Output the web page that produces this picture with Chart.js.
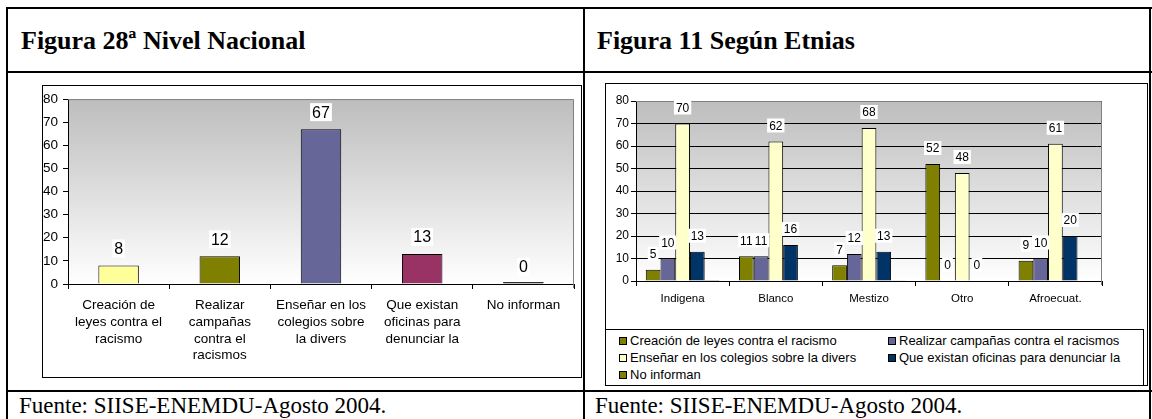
<!DOCTYPE html>
<html>
<head>
<meta charset="utf-8">
<script src="https://cdn.jsdelivr.net/npm/chart.js@4"></script>
<style>
  html, body { margin: 0; padding: 0; background: #fff; }
  #page { position: relative; width: 1152px; height: 419px; overflow: hidden; font-family: "Liberation Serif", "Times New Roman", serif; }
  .ln { position: absolute; background: #000; }
  .title { position: absolute; font-weight: bold; font-size: 26px; line-height: 1; white-space: nowrap; }
  .src { position: absolute; font-size: 23px; line-height: 1; white-space: nowrap; }
  .box { position: absolute; border: 1px solid #000; box-sizing: border-box; }
  canvas { position: absolute; }
  #legend { position: absolute; left: 605px; top: 329px; width: 539px; height: 57px; border: 1px solid #000; box-sizing: border-box;
            font-family: "Liberation Sans", Arial, sans-serif; font-size: 13px; padding-top: 2px; }
  #legend .it { position: absolute; height: 17px; line-height: 17px; white-space: nowrap; }
  #legend .sw { display: inline-block; width: 6px; height: 6px; border: 1px solid #000; margin-right: 3px; vertical-align: 0px; }
</style>
</head>
<body>
<div id="page">
  <div class="ln" style="left:6px;top:7px;width:1146px;height:2px"></div>
  <div class="ln" style="left:6px;top:71px;width:1146px;height:2px"></div>
  <div class="ln" style="left:6px;top:390px;width:1146px;height:2px"></div>
  <div class="ln" style="left:6px;top:7px;width:2px;height:412px"></div>
  <div class="ln" style="left:583px;top:7px;width:2px;height:412px"></div>
  <div class="ln" style="left:1149px;top:7px;width:2px;height:412px"></div>

  <div class="title" style="left:21px;top:28px">Figura 28ª Nivel Nacional</div>
  <div class="title" style="left:597px;top:28px">Figura 11 Según Etnias</div>
  <div class="src" style="left:19px;top:394px">Fuente: SIISE-ENEMDU-Agosto 2004.</div>
  <div class="src" style="left:595px;top:394px">Fuente: SIISE-ENEMDU-Agosto 2004.</div>

  <div class="box" style="left:42px;top:85px;width:540px;height:293px"></div>
  <canvas id="natChart" width="538" height="291" style="left:43px;top:86px;width:538px;height:291px"></canvas>

  <div class="box" style="left:605px;top:83px;width:543px;height:303px"></div>
  <canvas id="etnChart" width="541" height="244" style="left:606px;top:84px;width:541px;height:244px"></canvas>
  <div id="legend"></div>
</div>

<script>
/* ---- data: Figura 28 (nivel nacional) ---- */
const natLabels = [
  ['Creación de', 'leyes contra el', 'racismo'],
  ['Realizar', 'campañas', 'contra el', 'racismos'],
  ['Enseñar en los', 'colegios sobre', 'la divers'],
  ['Que existan', 'oficinas para', 'denunciar la'],
  ['No informan']
];
const natValues = [8, 12, 67, 13, 0];

/* ---- data: Figura 11 (según etnias) ---- */
const etnias = ['Indigena', 'Blanco', 'Mestizo', 'Otro', 'Afroecuat.'];
const serieNames = [
  'Creación de leyes contra el racismo',
  'Realizar campañas contra el racismos',
  'Enseñar en los colegios sobre la divers',
  'Que existan oficinas para denunciar la',
  'No informan'
];
const creacionLeyes = [5, 11, 7, 52, 9];
const campanas = [10, 11, 12, 0, 10];
const ensenar = [70, 62, 68, 48, 61];
const oficinas = [13, 16, 13, 0, 20];
const noInforman = [0.4, 0, 0.3, 0, 0];
const yTicks = [0, 10, 20, 30, 40, 50, 60, 70, 80];

const natColors = ['#FFFF99', '#808000', '#666699', '#993366', '#000000'];
const etnColors = ['#808000', '#666699', '#FFFFCC', '#003366', '#808000'];

const FONT = '"Liberation Sans", Arial, sans-serif';
Chart.defaults.font.family = FONT;
Chart.defaults.color = '#000';

// grey gradient behind the plot, grey frame on top/right
const plotBg = {
  id: 'plotBg',
  beforeDraw(chart) {
    const { ctx, chartArea: a } = chart;
    const g = ctx.createLinearGradient(0, a.top, 0, a.bottom);
    g.addColorStop(0, '#bdbdbd');
    g.addColorStop(1, '#ffffff');
    ctx.save();
    ctx.fillStyle = g;
    ctx.fillRect(a.left, a.top, a.right - a.left, a.bottom - a.top);
    ctx.restore();
  },
  beforeDatasetsDraw(chart) {
    const { ctx, chartArea: a } = chart;
    ctx.save();
    ctx.strokeStyle = '#808080';
    ctx.lineWidth = 1;
    ctx.beginPath();
    ctx.moveTo(a.left, a.top + 0.5);
    ctx.lineTo(a.right - 0.5, a.top + 0.5);
    ctx.lineTo(a.right - 0.5, a.bottom + 4);
    ctx.stroke();
    ctx.restore();
  }
};

// value labels with white box above every bar
const valueLabels = {
  id: 'valueLabels',
  afterDatasetsDraw(chart, args, opts) {
    const ctx = chart.ctx;
    ctx.save();
    ctx.font = opts.size + 'px ' + FONT;
    ctx.textAlign = 'center';
    ctx.textBaseline = 'middle';
    chart.data.datasets.forEach((ds, di) => {
      if (ds.noLabels) return;
      chart.getDatasetMeta(di).data.forEach((bar, i) => {
        const txt = String(Math.round(ds.data[i]));
        const w = ctx.measureText(txt).width;
        const base = chart.scales.y.getPixelForValue(ds.data[i]);
        const y = base - opts.offset;
        ctx.fillStyle = '#fff';
        ctx.fillRect(bar.x - w / 2 - 2, y - opts.size / 2 - 1, w + 4, opts.size + 2);
        ctx.fillStyle = '#000';
        ctx.fillText(txt, bar.x, y + 1);
      });
    });
    ctx.restore();
  }
};

function yScale(width, size, pad) {
  return {
    min: 0, max: 80,
    afterBuildTicks(s) { s.ticks = yTicks.map(v => ({ value: v })); },
    ticks: { font: { size: size }, padding: pad, color: '#000' },
    border: { color: '#000' },
    afterFit(s) { s.width = width; }
  };
}

new Chart(document.getElementById('natChart'), {
  type: 'bar',
  data: {
    labels: natLabels,
    datasets: [{
      data: natValues,
      backgroundColor: natColors,
      borderColor: '#000',
      borderWidth: 1,
      minBarLength: 2,
      categoryPercentage: 1,
      barPercentage: 0.4
    }]
  },
  options: {
    responsive: false,
    animation: false,
    layout: { padding: { top: 12, right: 7, left: 0, bottom: 0 } },
    plugins: {
      legend: { display: false },
      tooltip: { enabled: false },
      valueLabels: { size: 16, offset: 17 }
    },
    scales: {
      x: {
        ticks: { font: { size: 13.5, lineHeight: 1.24 }, padding: 8, maxRotation: 0, autoSkip: false, color: '#000' },
        grid: { drawOnChartArea: false, tickLength: 5, tickColor: '#000', offset: true },
        border: { color: '#000' },
        afterFit(s) { s.height = 93; }
      },
      y: Object.assign(yScale(25, 13.5, 5), {
        grid: { drawOnChartArea: false, tickLength: 5, tickColor: '#000' }
      })
    }
  },
  plugins: [plotBg, valueLabels]
});

const etnSeries = [creacionLeyes, campanas, ensenar, oficinas, noInforman];

new Chart(document.getElementById('etnChart'), {
  type: 'bar',
  data: {
    labels: etnias,
    datasets: etnSeries.map((vals, i) => ({
      label: serieNames[i],
      data: vals,
      backgroundColor: etnColors[i],
      borderColor: '#000',
      borderWidth: 1,
      categoryPercentage: 0.79,
      barPercentage: 1,
      noLabels: i === 4
    }))
  },
  options: {
    responsive: false,
    animation: false,
    layout: { padding: { top: 17, right: 45, left: 0, bottom: 0 } },
    plugins: {
      legend: { display: false },
      tooltip: { enabled: false },
      valueLabels: { size: 12, offset: 16 }
    },
    scales: {
      x: {
        ticks: { font: { size: 11.5 }, padding: 6, maxRotation: 0, autoSkip: false, color: '#000' },
        grid: { drawOnChartArea: false, tickLength: 5, tickColor: '#000', offset: true },
        border: { color: '#000' },
        afterFit(s) { s.height = 47; }
      },
      y: Object.assign(yScale(30, 12, 2), {
        grid: { color: '#000', tickLength: 5, tickColor: '#000' }
      })
    }
  },
  plugins: [plotBg, valueLabels]
});

// legend box, two columns
const legendPos = [[13, 0], [282, 0], [13, 1], [282, 1], [13, 2]];
document.getElementById('legend').innerHTML = serieNames.map((n, i) =>
  `<div class="it" style="left:${legendPos[i][0]}px;top:${2 + legendPos[i][1] * 17}px">` +
  `<span class="sw" style="background:${etnColors[i]}"></span>${n}</div>`
).join('');
</script>
</body>
</html>
